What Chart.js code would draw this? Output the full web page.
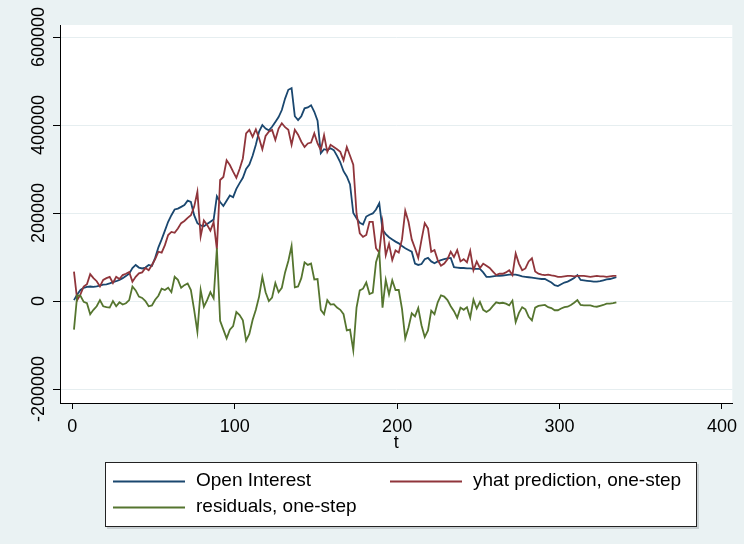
<!DOCTYPE html>
<html>
<head>
<meta charset="utf-8">
<script src="https://cdn.jsdelivr.net/npm/chart.js@4.4.1/dist/chart.umd.min.js"></script>
<style>
  html, body { margin: 0; padding: 0; background: #EAF2F3; }
  #wrap { width: 744px; height: 544px; }
</style>
</head>
<body>
<div id="wrap"><canvas id="c" width="744" height="544"></canvas></div>
<script>
// time index (every second observation)
const t = [
  1,3,5,7,9,11,13,15,17,19,
  21,23,25,27,29,31,33,35,37,39,
  41,43,45,47,49,51,53,55,57,59,
  61,63,65,67,69,71,73,75,77,79,
  81,83,85,87,89,91,93,95,97,99,
  101,103,105,107,109,111,113,115,117,119,
  121,123,125,127,129,131,133,135,137,139,
  141,143,145,147,149,151,153,155,157,159,
  161,163,165,167,169,171,173,175,177,179,
  181,183,185,187,189,191,193,195,197,199,
  201,203,205,207,209,211,213,215,217,219,
  221,223,225,227,229,231,233,235,237,239,
  241,243,245,247,249,251,253,255,257,259,
  261,263,265,267,269,271,273,275,277,279,
  281,283,285,287,289,291,293,295,297,299,
  301,303,305,307,309,311,313,315,317,319,
  321,323,325,327,329,331,333,335
];

// values in thousands of contracts
const openInterest = [
  2,15,25,30,32,33,32,33,35,37,
  38,40,43,45,48,52,57,62,75,82,
  76,74,76,82,80,98,122,140,160,180,
  195,208,210,214,218,228,225,195,177,172,
  170,175,180,185,238,225,216,228,240,236,
  255,268,280,300,310,330,355,385,400,392,
  388,396,407,418,434,460,480,484,420,411,
  420,438,440,445,430,410,336,345,343,347,
  343,330,315,295,283,265,200,188,178,174,
  192,196,199,208,222,162,152,145,140,135,
  131,125,120,116,112,85,82,84,95,98,
  90,86,90,93,95,97,98,77,76,75,
  75,74,74,73,73,73,65,55,55,56,
  57,57,58,59,60,60,60,58,56,55,
  54,53,52,51,50,50,46,42,36,34,
  38,42,44,48,52,59,48,47,46,45,
  44,44,45,47,49,50,52,54
];

const yhatOneStep = [
  67,2,15,33,38,61,52,45,33,48,
  52,55,41,55,50,59,62,66,44,55,
  63,65,75,70,82,95,112,110,127,150,
  157,155,165,177,182,189,195,214,248,147,
  183,173,160,179,118,275,282,320,309,294,
  280,300,324,381,389,373,390,370,345,375,
  385,389,366,392,404,395,389,355,389,378,
  362,350,358,360,381,358,343,377,339,355,
  350,345,339,320,350,330,310,199,154,146,
  150,180,180,120,110,177,104,130,93,115,
  110,140,205,180,140,120,98,139,177,165,
  112,116,93,80,85,95,112,100,116,90,
  95,88,114,70,90,75,85,80,75,67,
  59,62,62,65,70,59,108,85,70,74,
  90,97,67,62,60,59,60,58,57,55,
  55,56,57,57,56,57,57,57,56,55,
  56,57,56,56,55,56,57,57
];

const residOneStep = [
  -65,13,12,-2,-5,-30,-20,-12,2,-12,
  -14,-15,0,-12,-3,-8,-5,2,33,24,
  10,7,0,-12,-10,3,12,28,25,30,
  20,55,48,30,36,40,25,-20,-70,25,
  -13,2,20,6,120,-45,-65,-85,-65,-57,
  -25,-32,-44,-90,-75,-43,-20,10,55,20,
  0,8,41,20,30,65,91,125,31,33,
  52,88,82,85,49,50,-20,-30,2,-8,
  -7,-15,-20,-30,-67,-65,-112,-15,24,28,
  42,16,19,88,112,-15,48,15,47,25,
  25,-18,-85,-60,-28,-35,-16,-55,-82,-67,
  -22,-30,-3,13,10,2,-12,-23,-38,-15,
  -20,-14,-38,3,-17,-2,-20,-25,-20,-11,
  -3,-5,-4,-6,-10,1,-48,-27,-14,-19,
  -36,-44,-15,-11,-10,-9,-14,-16,-21,-21,
  -17,-14,-13,-9,-4,2,-9,-10,-10,-10,
  -12,-13,-11,-9,-6,-6,-5,-3
];

const seriesNames = ['Open Interest', 'yhat prediction, one-step', 'residuals, one-step'];
const xTicks = [0, 100, 200, 300, 400];
const yTicks = [-200000, 0, 200000, 400000, 600000];
const xTitle = 't';

const UNIT = 1000;
const FONT = "'Liberation Sans', Arial, Helvetica, sans-serif";
const COLORS = ['#1A476F', '#90353B', '#55752F'];

const toPoints = arr => t.map((ti, i) => ({ x: ti, y: arr[i] * UNIT }));

// outer region tint and white plot region
const backdrop = {
  id: 'backdrop',
  beforeDraw(chart) {
    const { ctx, chartArea: a } = chart;
    ctx.save();
    ctx.fillStyle = '#EAF2F3';
    ctx.fillRect(0, 0, chart.width, chart.height);
    ctx.fillStyle = '#FFFFFF';
    ctx.fillRect(a.left, a.top, a.right - a.left, a.bottom - a.top);
    ctx.restore();
  }
};

// framed two-column legend below the axis
const boxLegend = {
  id: 'boxLegend',
  afterDraw(chart, args, o) {
    const ctx = chart.ctx;
    ctx.save();
    ctx.fillStyle = '#C8CFD2';
    ctx.fillRect(o.left + 2, o.top + 2, o.width, o.height);
    ctx.fillStyle = '#FFFFFF';
    ctx.fillRect(o.left, o.top, o.width, o.height);
    ctx.strokeStyle = '#222';
    ctx.lineWidth = 1;
    ctx.strokeRect(o.left + 0.5, o.top + 0.5, o.width - 1, o.height - 1);
    ctx.font = o.fontSize + 'px ' + FONT;
    ctx.textBaseline = 'middle';
    ctx.textAlign = 'left';
    chart.data.datasets.forEach((ds, i) => {
      const col = i % 2, row = Math.floor(i / 2);
      const x0 = o.colX[col];
      const y = o.rowY[row];
      ctx.strokeStyle = ds.borderColor;
      ctx.lineWidth = ds.borderWidth;
      ctx.beginPath();
      ctx.moveTo(x0, y + 0.5);
      ctx.lineTo(x0 + o.sample, y + 0.5);
      ctx.stroke();
      ctx.fillStyle = '#000';
      ctx.fillText(ds.label, x0 + o.sample + o.gap, y);
    });
    ctx.restore();
  }
};

const series = [openInterest, yhatOneStep, residOneStep];

new Chart(document.getElementById('c'), {
  type: 'line',
  data: {
    datasets: series.map((arr, i) => ({
      label: seriesNames[i],
      data: toPoints(arr),
      borderColor: COLORS[i],
      backgroundColor: COLORS[i],
      borderWidth: 1.8,
      pointRadius: 0,
      tension: 0,
      fill: false,
      order: 3 - i
    }))
  },
  options: {
    responsive: false,
    animation: false,
    devicePixelRatio: 1,
    layout: { padding: { top: 25, right: 4, bottom: 0, left: 0 } },
    scales: {
      x: {
        type: 'linear',
        min: -7.6,
        max: 406.4,
        afterBuildTicks: s => { s.ticks = xTicks.map(v => ({ value: v })); },
        afterFit: s => { s.height = 141; },
        grid: { drawOnChartArea: false, drawTicks: true, tickColor: '#000', tickLength: 6 },
        border: { color: '#000', width: 1 },
        ticks: {
          autoSkip: false, minRotation: 0, maxRotation: 0, padding: 7,
          color: '#000', font: { family: FONT, size: 18 },
          callback: v => String(v)
        },
        title: {
          display: true, text: xTitle, color: '#000',
          font: { family: FONT, size: 18 },
          padding: { top: 0, bottom: 90 }
        }
      },
      y: {
        type: 'linear',
        min: -231800,
        max: 627300,
        afterBuildTicks: s => { s.ticks = yTicks.map(v => ({ value: v })); },
        afterFit: s => { s.width = 60; },
        grid: { color: '#E6EEF0', lineWidth: 1, drawTicks: true, tickColor: '#000', tickLength: 7 },
        border: { color: '#000', width: 1 },
        ticks: {
          autoSkip: false, minRotation: 90, maxRotation: 90,
          crossAlign: 'center', padding: -19,
          color: '#000', font: { family: FONT, size: 18 },
          callback: v => String(v)
        }
      }
    },
    plugins: {
      legend: { display: false },
      tooltip: { enabled: false },
      boxLegend: {
        left: 105, top: 462, width: 592, height: 65,
        colX: [113, 390], rowY: [481, 507],
        sample: 72, gap: 11, fontSize: 19
      }
    }
  },
  plugins: [backdrop, boxLegend]
});
</script>
</body>
</html>
